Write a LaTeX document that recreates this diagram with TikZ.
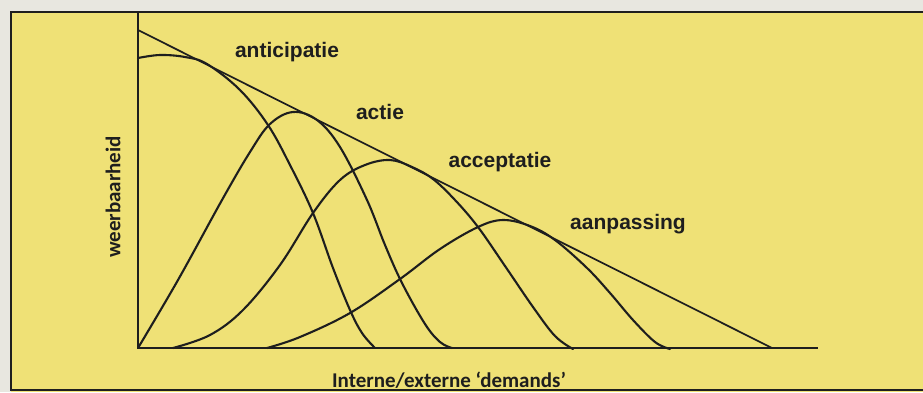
\documentclass[tikz,border=0pt]{standalone}
\usepackage{fontspec}
\setmainfont{Liberation Sans}
\newfontfamily\calfont{Carlito}
\definecolor{paper}{RGB}{232,231,224}
\definecolor{bgyellow}{RGB}{239,225,118}
\definecolor{ink}{RGB}{30,30,30}
\begin{document}
\begin{tikzpicture}[x=1pt,y=-1pt,
  curve/.style={draw=ink,line width=2.1pt,line cap=round,line join=round},
  axisline/.style={draw=ink,line width=1.5pt},
  phase/.style={font=\fontsize{21}{24}\selectfont\bfseries,text=ink,inner sep=0pt},
  axislabel/.style={font=\calfont\fontsize{21}{24}\selectfont\bfseries,text=ink,inner sep=0pt}]
\useasboundingbox (0,0) rectangle (923,392);
\fill[paper] (0,0) rectangle (923,392);
\fill[bgyellow] (11,12) rectangle (923,392);
\draw[ink,line width=1.8pt] (930,12) -- (11,12) -- (11,390) -- (930,390);
% axes
\coordinate (top) at (138,12);
\coordinate (origin) at (138,348);
\coordinate (xend) at (818,348);
\draw[axisline] (top) -- (origin) -- (xend);
% envelope
\coordinate (envA) at (138,30);
\coordinate (envB) at (772,348);
\draw[curve,line width=1.7pt] (envA) -- (envB);
% anticipatie
\draw[curve] plot[smooth,tension=0.6] coordinates {(138,58) (160,55) (185,57) (207,64) (240,90) (268,125) (290,165) (313,213) (333,268) (350,310) (362,333) (375,348)};
% actie
\draw[curve] plot[smooth,tension=0.6] coordinates {(138,348) (178,280) (222,200) (250,152) (270,124) (293,112) (317,120) (340,147) (367,200) (385,245) (402,283) (425,324) (440,342) (452,348)};
% acceptatie
\draw[curve] plot[smooth,tension=0.6] coordinates {(173,348) (210,335) (243,310) (280,265) (313,213) (340,180) (365,165) (390,160) (412,167) (433,179) (455,200) (478,227) (505,266) (533,307) (555,336) (573,349)};
% aanpassing
\draw[curve] plot[smooth,tension=0.6] coordinates {(267,348) (300,337) (350,313) (400,279) (440,249) (478,227) (503,220) (530,226) (555,240) (587,268) (610,293) (633,320) (655,342) (670,349)};
% labels
\node[phase] (l1) at (287,52) {anticipatie};
\node[phase] (l2) at (380,112) {actie};
\node[phase] (l3) at (500,162) {acceptatie};
\node[phase] (l4) at (628,224) {aanpassing};
\node[axislabel,rotate=90] (ly) at (113,197) {weerbaarheid};
\node[axislabel] (lx) at (449,380) {Interne/externe ‘demands’};
\end{tikzpicture}
\end{document}
